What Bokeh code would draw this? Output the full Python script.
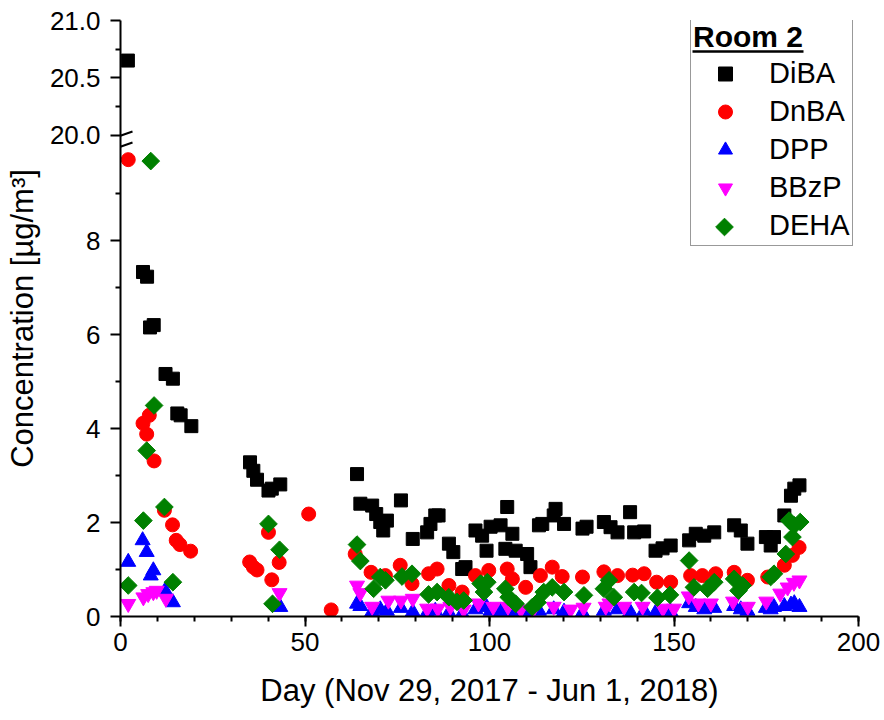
import numpy as np
from bokeh.plotting import figure
from bokeh.models import (Range1d, FixedTicker, CustomJSTickFormatter, Legend,
                          LegendItem, Arrow)
from bokeh.embed import file_html
from bokeh.resources import INLINE

# ---------------- data (day, concentration in ug/m3) ----------------
diba_day = [6.1, 7.2, 8.0, 9.0, 12.2, 14.2, 15.4, 16.3, 19.2, 35.1, 36.0, 37.0,
            40.1, 41.0, 43.3, 64.1, 65.0, 68.2, 69.3, 70.4, 71.2, 72.2, 76.0,
            79.2, 83.1, 84.0, 85.3, 86.2, 89.0, 90.2, 92.6, 93.5, 96.2, 98.0,
            99.2, 100.3, 103.0, 104.3, 104.8, 106.2, 107.1, 110.2, 111.1, 113.4,
            114.3, 117.4, 117.9, 120.2, 125.2, 126.3, 131.0, 132.8, 134.7, 138.1,
            139.2, 141.9, 145.0, 146.9, 149.1, 154.1, 155.9, 158.2, 160.9, 166.3,
            168.1, 169.9, 174.9, 176.2, 177.1, 179.9, 181.7, 182.6, 184.0]
diba_val = [7.33, 7.23, 6.15, 6.20, 5.16, 5.06, 4.32, 4.28, 4.05, 3.28, 3.10, 2.91,
            2.68, 2.72, 2.81, 3.03, 2.40, 2.36, 2.18, 2.01, 1.83, 2.04, 2.47,
            1.65, 1.79, 1.97, 2.15, 2.15, 1.55, 1.37, 1.01, 1.05, 1.83, 1.72,
            1.40, 1.91, 1.94, 1.44, 2.33, 1.76, 1.40, 1.33, 1.05, 1.94,
            1.97, 2.15, 2.29, 1.97, 1.87, 1.91, 2.01, 1.90, 1.79, 2.22,
            1.79, 1.81, 1.40, 1.45, 1.51, 1.62, 1.76, 1.72, 1.79, 1.94,
            1.83, 1.55, 1.69, 1.51, 1.69, 2.15, 2.57, 2.72, 2.79]
# value above the axis break
diba_hi_day = [2.0]
diba_hi_val = [20.65]

dnba_day = [2.1, 6.1, 7.1, 7.8, 9.1, 11.9, 14.1, 15.1, 16.1, 19.0, 35.0, 36.0,
            37.0, 40.1, 41.0, 43.0, 51.0, 57.1, 63.6, 67.9, 71.8, 75.8, 79.0,
            83.5, 85.8, 89.0, 92.6, 96.2, 99.8, 104.8, 106.2, 109.8, 113.8,
            117.0, 119.7, 125.2, 131.0, 134.7, 138.8, 141.9, 145.3, 149.1,
            154.5, 157.7, 161.3, 166.3, 169.9, 175.4, 179.9, 182.1, 183.9]
dnba_val = [9.72, 4.11, 3.88, 4.28, 3.31, 2.26, 1.95, 1.62, 1.53, 1.39, 1.16, 1.05,
            0.99, 1.79, 0.78, 1.15, 2.18, 0.14, 1.33, 0.94, 0.87, 1.09, 0.70,
            0.91, 1.01, 0.66, 0.52, 0.87, 0.98, 1.01, 0.80, 0.62, 0.87,
            1.05, 0.85, 0.84, 0.95, 0.87, 0.88, 0.91, 0.73, 0.73,
            0.87, 0.87, 0.91, 0.94, 0.77, 0.84, 1.09, 1.30, 1.47]

dpp_day = [2.1, 6.0, 7.1, 8.2, 8.9, 12.1, 14.2, 43.3, 64.1, 65.0, 68.2, 70.4,
           72.2, 76.0, 79.2, 83.1, 85.3, 89.0, 92.6, 96.2, 99.2, 100.3, 103.0,
           104.8, 106.2, 110.2, 113.4, 117.4, 120.2, 125.2, 131.0, 134.7, 138.1,
           141.9, 145.0, 149.1, 154.1, 155.9, 158.2, 160.9, 166.3, 168.1, 169.9,
           174.9, 176.2, 177.1, 179.9, 181.7, 182.6, 184.0]
dpp_val = [1.16, 1.62, 1.37, 0.87, 0.98, 0.55, 0.30, 0.20, 0.27, 0.22, 0.10, 0.15,
           0.12, 0.18, 0.10, 0.08, 0.12, 0.08, 0.06, 0.15, 0.20, 0.12, 0.10,
           0.15, 0.10, 0.08, 0.12, 0.15, 0.10, 0.08, 0.12, 0.15, 0.10,
           0.12, 0.08, 0.10, 0.28, 0.20, 0.15, 0.18, 0.22, 0.15, 0.12,
           0.18, 0.15, 0.20, 0.22, 0.25, 0.28, 0.20]

bbzp_day = [2.1, 6.2, 7.5, 8.9, 9.8, 12.3, 43.1, 64.1, 65.0, 68.2, 72.6, 76.0,
            79.2, 83.1, 86.0, 89.4, 93.0, 97.0, 101.0, 105.0, 108.5, 112.0,
            117.4, 122.0, 125.5, 131.5, 132.5, 136.5, 141.5, 147.0, 150.0,
            154.0, 156.6, 160.0, 166.0, 170.0, 175.0, 178.8, 180.8, 182.5, 184.0]
bbzp_val = [0.27, 0.41, 0.48, 0.52, 0.55, 0.38, 0.50, 0.66, 0.50, 0.21, 0.34, 0.34,
            0.38, 0.17, 0.17, 0.21, 0.15, 0.28, 0.21, 0.21, 0.15, 0.17,
            0.21, 0.15, 0.19, 0.21, 0.28, 0.21, 0.21, 0.17, 0.17,
            0.43, 0.28, 0.28, 0.32, 0.21, 0.32, 0.49, 0.62, 0.72, 0.77]

deha_day = [2.1, 6.2, 7.1, 8.2, 9.1, 11.9, 14.2, 40.1, 41.2, 43.1, 64.1, 65.0,
            68.6, 70.4, 71.8, 76.3, 79.0, 83.5, 85.8, 89.0, 91.2, 93.0, 97.6,
            98.5, 99.4, 104.3, 105.2, 107.1, 111.6, 113.0, 114.7, 117.0, 120.2,
            125.6, 131.0, 132.4, 133.7, 139.2, 141.2, 145.5, 148.9, 154.1, 155.4,
            159.1, 160.9, 166.3, 167.5, 168.6, 176.2, 177.1, 180.3, 181.2, 182.1,
            182.6, 184.2]
deha_val = [0.66, 2.04, 3.53, 9.69, 4.49, 2.33, 0.73, 1.97, 0.27, 1.42, 1.53, 1.18,
            0.59, 0.84, 0.77, 0.85, 0.91, 0.47, 0.52, 0.41, 0.31, 0.34, 0.70,
            0.52, 0.73, 0.59, 0.41, 0.27, 0.20, 0.30, 0.52, 0.62, 0.52,
            0.45, 0.59, 0.77, 0.41, 0.52, 0.50, 0.40, 0.46, 1.19, 0.62,
            0.59, 0.73, 0.80, 0.55, 0.66, 0.84, 0.91, 1.33, 2.04, 1.69,
            1.94, 2.01]

x_ticks = [0, 50, 100, 150, 200]
y_low_ticks = [0, 2, 4, 6, 8]
y_up_ticks = [20.0, 20.5, 21.0]

# ---------------- geometry ----------------
FONT = "Liberation Sans"
FRAME_W, FRAME_H = 738, 596
BORDER_L, BORDER_T = 120, 20
LO_PX = 47.0            # pixels per unit, lower segment
UP_PX = 114.5           # pixels per unit, upper segment
Y_TOP = FRAME_H / LO_PX
X_MAX = 200.0
PX_PER_DAY = FRAME_W / X_MAX

# legend geometry (pixels)
LEG_X, LEG_Y = 570, 370          # offset of legend box from frame bottom-left
LEG_PAD, GLYPH_W, GLYPH_H, ROW_SP = 2, 64, 35, 3


def up_to_lo(v):
    return Y_TOP - (21.0 - v) * UP_PX / LO_PX


def px_x(px):
    return (px - BORDER_L) / PX_PER_DAY


def px_y(py):
    return Y_TOP - (py - BORDER_T) / LO_PX


p = figure(frame_width=FRAME_W, frame_height=FRAME_H,
           min_border_left=BORDER_L, min_border_right=26,
           min_border_top=BORDER_T, min_border_bottom=104,
           x_range=Range1d(0, X_MAX), y_range=Range1d(0, Y_TOP),
           output_backend="svg", toolbar_location=None)
p.extra_y_ranges = {"upper": Range1d(21.0 - FRAME_H / UP_PX, 21.0)}
p.outline_line_color = None
p.xgrid.visible = False
p.ygrid.visible = False
p.background_fill_color = "white"
p.border_fill_color = "white"

# ---------------- glyphs ----------------
r_diba = p.scatter(diba_day, diba_val, marker="square", size=13,
                   color="black")
p.scatter(diba_hi_day, diba_hi_val, marker="square", size=13, color="black",
          y_range_name="upper")
r_dnba = p.scatter(dnba_day, dnba_val, marker="circle", size=14, color="red")
r_dpp = p.scatter(dpp_day, dpp_val, marker="triangle", size=15, color="blue")
r_bbzp = p.scatter(bbzp_day, bbzp_val, marker="inverted_triangle", size=15,
                   color="magenta")
r_deha = p.scatter(deha_day, deha_val, marker="square", angle=np.pi / 4,
                   size=12.5, color="green")

# ---------------- axes ----------------
xa = p.xaxis[0]
ya = p.yaxis[0]
xa.ticker = FixedTicker(ticks=x_ticks, minor_ticks=list(range(0, 201, 10)))
up_major = [up_to_lo(v) for v in y_up_ticks]
up_minor = [up_to_lo(20.25), up_to_lo(20.75)]
ya.ticker = FixedTicker(ticks=y_low_ticks + up_major,
                        minor_ticks=[1, 3, 5, 7, 9] + up_minor)
ya.formatter = CustomJSTickFormatter(
    args=dict(y20=up_to_lo(20.0), k=UP_PX / LO_PX),
    code="""
    if (tick > 10.1) { return (20 + (tick - y20) / k).toFixed(1); }
    return tick.toFixed(0);
    """)
xa.axis_label = "Day (Nov 29, 2017 - Jun 1, 2018)"
ya.axis_label = "Concentration [\u00b5g/m\u00b3]"
for ax in (xa, ya):
    ax.axis_line_width = 2
    ax.axis_line_color = "black"
    ax.major_tick_line_width = 2
    ax.minor_tick_line_width = 2
    ax.major_tick_line_color = "black"
    ax.minor_tick_line_color = "black"
    ax.major_tick_out = 10
    ax.major_tick_in = 0
    ax.minor_tick_out = 5
    ax.minor_tick_in = 0
    ax.major_label_text_font = FONT
    ax.major_label_text_font_size = "26px"
    ax.major_label_text_color = "black"
    ax.axis_label_text_font = FONT
    ax.axis_label_text_font_size = "31px"
    ax.axis_label_text_font_style = "normal"
    ax.axis_label_text_color = "black"
xa.major_label_standoff = 6
xa.axis_label_standoff = 19
ya.major_label_standoff = 10
ya.axis_label_standoff = 7

# ---------------- axis break marks ----------------
for (x0, y0, x1, y1) in [(109, 139, 132, 131), (109, 150, 132, 142)]:
    p.add_layout(Arrow(start=None, end=None,
                       x_start=px_x(x0), y_start=px_y(y0),
                       x_end=px_x(x1), y_end=px_y(y1),
                       line_width=2, line_color="black"))

# ---------------- legend ----------------
# the legend would draw the DEHA swatch unrotated, so it gets an empty
# stand-in renderer and the diamond swatch is drawn below the legend
r_deha_key = p.scatter([], [], marker="square", size=1, fill_alpha=0,
                       line_alpha=0)
legend = Legend(
    items=[LegendItem(label="DiBA", renderers=[r_diba]),
           LegendItem(label="DnBA", renderers=[r_dnba]),
           LegendItem(label="DPP", renderers=[r_dpp]),
           LegendItem(label="BBzP", renderers=[r_bbzp]),
           LegendItem(label="DEHA", renderers=[r_deha_key])],
    location=(LEG_X, LEG_Y), title="Room 2",
    title_text_font=FONT, title_text_font_size="30px",
    title_text_font_style="bold", title_text_color="black",
    title_standoff=2,
    label_text_font=FONT, label_text_font_size="29px",
    label_text_color="black",
    glyph_width=GLYPH_W, glyph_height=GLYPH_H, spacing=ROW_SP,
    padding=LEG_PAD, label_standoff=12, margin=0,
    border_line_color="#333333", border_line_width=1,
    background_fill_alpha=0.0)
p.add_layout(legend)

frame_bottom = BORDER_T + FRAME_H
key_cx = BORDER_L + LEG_X + LEG_PAD + GLYPH_W / 2
key_cy = frame_bottom - LEG_Y - LEG_PAD - GLYPH_H / 2
p.scatter([px_x(key_cx)], [px_y(key_cy)], marker="square", angle=np.pi / 4,
          size=12.5, color="green")

# underline of the legend title
p.segment(x0=[px_x(692)], y0=[px_y(51)], x1=[px_x(803)], y1=[px_y(51)],
          line_width=2.5, line_color="black")

open("out.html", "w").write(file_html(p, INLINE))
